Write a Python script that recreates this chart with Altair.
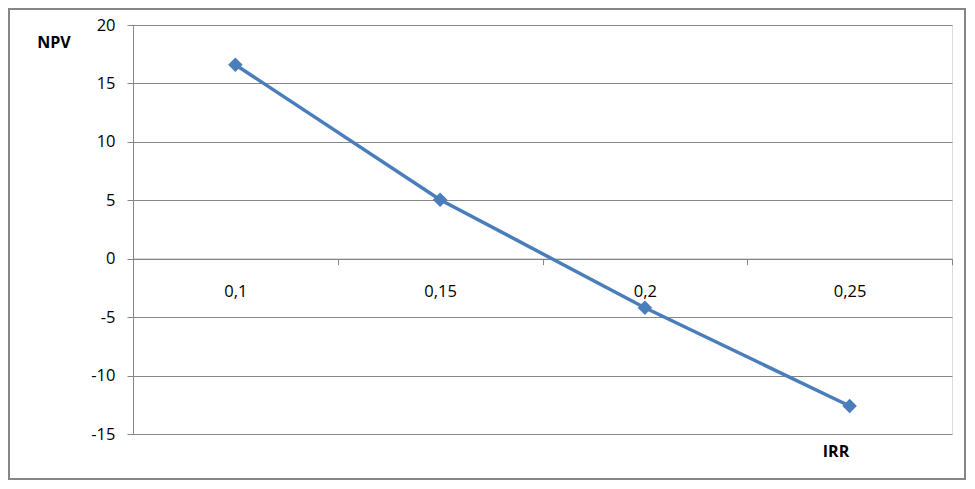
import altair as alt
import pandas as pd

categories = ["0,1", "0,15", "0,2", "0,25"]
npv_values = [16.6, 5.05, -4.2, -12.6]
y_ticks = [-15, -10, -5, 0, 5, 10, 15, 20]

df = pd.DataFrame({"irr": categories, "npv": npv_values})

FONT = "Open Sans"
BLUE = "#4a7ebb"
GRID = "#868686"

W, H = 819, 409

x_enc = alt.X("irr:N", sort=categories, title=None,
              scale=alt.Scale(paddingInner=0, paddingOuter=0),
              axis=alt.Axis(labelAngle=0, offset=-175.3, tickBand="extent",
                            domainColor=GRID, tickColor=GRID, tickSize=6,
                            labelPadding=19, labelFontSize=16.5, labelFont=FONT,
                            labelColor="#000000", grid=False))
y_enc = alt.Y("npv:Q", title=None,
              scale=alt.Scale(domain=[-15, 20], nice=False, zero=False),
              axis=alt.Axis(values=y_ticks, grid=True, gridColor=GRID,
                            domainColor=GRID, tickColor=GRID, tickSize=6,
                            labelPadding=12, labelFontSize=16.5, labelFont=FONT,
                            labelColor="#000000",
                            labelExpr="replace(datum.label, '\u2212', '-')"))

line = alt.Chart(df).mark_line(color=BLUE, strokeWidth=3.5).encode(x=x_enc, y=y_enc)
points = alt.Chart(df).mark_point(shape="diamond", filled=True, size=210,
                                  color=BLUE, opacity=1).encode(x=x_enc, y=y_enc)

npv_label = alt.Chart(pd.DataFrame({"t": ["NPV"]})).mark_text(
    font=FONT, fontSize=16, fontWeight="bold", color="#000000", align="center", baseline="middle"
).encode(x=alt.value(-79), y=alt.value(18), text="t:N")

irr_label = alt.Chart(pd.DataFrame({"t": ["IRR"]})).mark_text(
    font=FONT, fontSize=16, fontWeight="bold", color="#000000", align="center", baseline="middle"
).encode(x=alt.value(703), y=alt.value(427), text="t:N")

border = alt.Chart(pd.DataFrame({"a": [0]})).mark_rect(
    fill=None, stroke=GRID, strokeWidth=2, clip=False
).encode(x=alt.value(-124), x2=alt.value(W + 13), y=alt.value(-16), y2=alt.value(H + 45))

chart = alt.layer(border, line, points, npv_label, irr_label).properties(
    width=W, height=H,
    autosize=alt.AutoSizeParams(type="none"),
    padding={"left": 125, "top": 17, "right": 14, "bottom": 46},
).configure_view(stroke=None).configure(background="white")

chart.save("out.html", embed_options={"renderer": "svg", "actions": False})
